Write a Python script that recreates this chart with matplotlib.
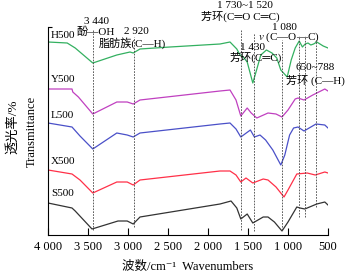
import numpy as np
import matplotlib
matplotlib.use("Agg")
import matplotlib.pyplot as plt

plt.rcParams['font.family'] = ['Liberation Serif', 'Noto Sans CJK SC', 'DejaVu Sans']
plt.rcParams['mathtext.fontset'] = 'stix'

# FTIR spectra, wavenumber (cm-1) vs transmittance (arbitrary, stacked)
h500_w = [4000, 3760, 3660, 3440, 3140, 2975, 2935, 2850, 2475, 1850, 1725, 1640, 1600, 1560,
          1510, 1440, 1400, 1340, 1270, 1200, 1140, 1090, 1010, 960, 910, 860, 820, 785, 750,
          715, 680, 640, 560, 500]
h500_t = [193, 192, 187, 172, 180, 183, 182, 186, 188, 191, 193, 186, 180, 178,
          173, 152, 163, 180, 185, 182, 177, 165, 158, 175, 187, 194, 188, 191, 192,
          190, 191, 193, 189, 187]

y500_w = [4000, 3700, 3690, 3620, 3440, 3140, 3010, 2935, 2850, 1850, 1725, 1650, 1590, 1510,
          1460, 1390, 1250, 1150, 1075, 1000, 910, 875, 800, 690, 540, 500]
y500_t = [146, 146, 143, 138, 121, 133, 133, 131, 135, 144, 145, 135, 119, 127,
          122, 117, 122, 121, 118, 125, 136, 137, 135, 140, 146, 144]

l500_w = [4000, 3700, 3600, 3440, 3140, 3010, 2935, 2850, 1850, 1725, 1650, 1590, 1470, 1420,
          1350, 1280, 1190, 1090, 1040, 980, 930, 875, 800, 650, 540, 500]
l500_t = [112, 108, 99, 86, 102, 100, 98, 102, 111, 112, 106, 98, 105, 98,
          100, 95, 85, 70, 80, 100, 107, 108, 104, 111, 110, 107]

x500_w = [4000, 3700, 3600, 3440, 3140, 3010, 2935, 2850, 1850, 1725, 1650, 1590, 1525, 1440,
          1310, 1250, 1150, 1050, 1000, 890, 760, 660, 540, 500]
x500_t = [65, 61, 55, 42, 53, 53, 50, 55, 64, 64, 60, 53, 57, 52,
          56, 55, 48, 38, 45, 61, 62, 60, 63, 62]

s500_w = [4000, 3700, 3660, 3450, 3125, 3010, 2935, 2850, 1850, 1712, 1640, 1590, 1510, 1440,
          1310, 1250, 1170, 1075, 1000, 890, 850, 790, 640, 540, 500]
s500_t = [32, 27, 24, 6, 14, 14, 11, 18, 31, 34, 27, 16, 21, 12,
          18, 18, 13, 4, 13, 28, 27, 26, 31, 33, 30]

names = ['H500', 'Y500', 'L500', 'X500', 'S500']
colors = ['#33b060', '#c040c0', '#4a50c8', '#ff3048', '#333333']
series = [(h500_w, h500_t), (y500_w, y500_t), (l500_w, l500_t), (x500_w, x500_t), (s500_w, s500_t)]
label_t = [200, 155, 120, 74, 42]

# marked bands
band_w = [3440, 2925, 1590, 1430, 1075, 865, 790, 655]
band_top = [205, 198, 205, 202, 195, 199, 199, 195]
band_bot = [5, 8, 5, 4, 5, 18, 18, 28]

xticks = [4000, 3500, 3000, 2500, 2000, 1500, 1000, 500]
xtick_labels = ['4 000', '3 500', '3 000', '2 500', '2 000', '1 500', '1 000', '500']

fig = plt.figure(figsize=(3.47, 2.79), dpi=100)
ax = fig.add_axes([48 / 347, 1 - 235 / 279, 280 / 347, 208 / 279])

for (w, t), c in zip(series, colors):
    ax.plot(w, t, color=c, lw=0.9)

for w, top, bot in zip(band_w, band_top, band_bot):
    ax.plot([w, w], [bot, top], color='#444444', lw=0.6, ls=(0, (2, 1.5)), clip_on=False)

for n, t in zip(names, label_t):
    ax.text(3962, t, n, fontsize=8, ha='left', va='center')

ann = [
    (3400, 213, '3 440'),
    (3400, 203, '酚—OH'),
    (2900, 203, '2 920'),
    (2950, 192, '脂肪族(C—H)'),
    (1538, 229, '1 730~1 520'),
    (1600, 219, '芳环(C═O C═C)'),
    (1050, 208, '1 080'),
    (985, 198, r'$\it{v}$ (C—O—C)'),
    (1440, 188, '1 430'),
    (1400, 178, '芳环(C═C)'),
    (662, 168, '650~788'),
    (662, 155, '芳环 (C—H)'),
]
for x, y, s in ann:
    ax.text(x, y, s, fontsize=8, ha='center', va='center', clip_on=False)

ax.set_xlim(4000, 500)
ax.set_ylim(0, 208)
ax.set_xticks(xticks)
ax.set_xticklabels(xtick_labels, fontsize=9)
ax.set_yticks([208])
ax.set_yticklabels([])
ax.tick_params(axis='x', direction='in', length=5, width=0.8, pad=4)
ax.tick_params(axis='y', direction='in', length=3, width=0.8)
for sp in ['top', 'right']:
    ax.spines[sp].set_visible(False)
for sp in ['left', 'bottom']:
    ax.spines[sp].set_linewidth(0.8)

fig.text(13 / 347, 1 - 127 / 279, '透光率/%', rotation=90, fontsize=9.5, ha='center', va='center')
fig.text(32 / 347, 1 - 131 / 279, 'Transmittance', rotation=90, fontsize=9, ha='center', va='center')
fig.text(188 / 347, 1 - 267 / 279, '波数/cm⁻¹  Wavenumbers', fontsize=9, ha='center', va='center')

fig.savefig('out.png', dpi=100)
